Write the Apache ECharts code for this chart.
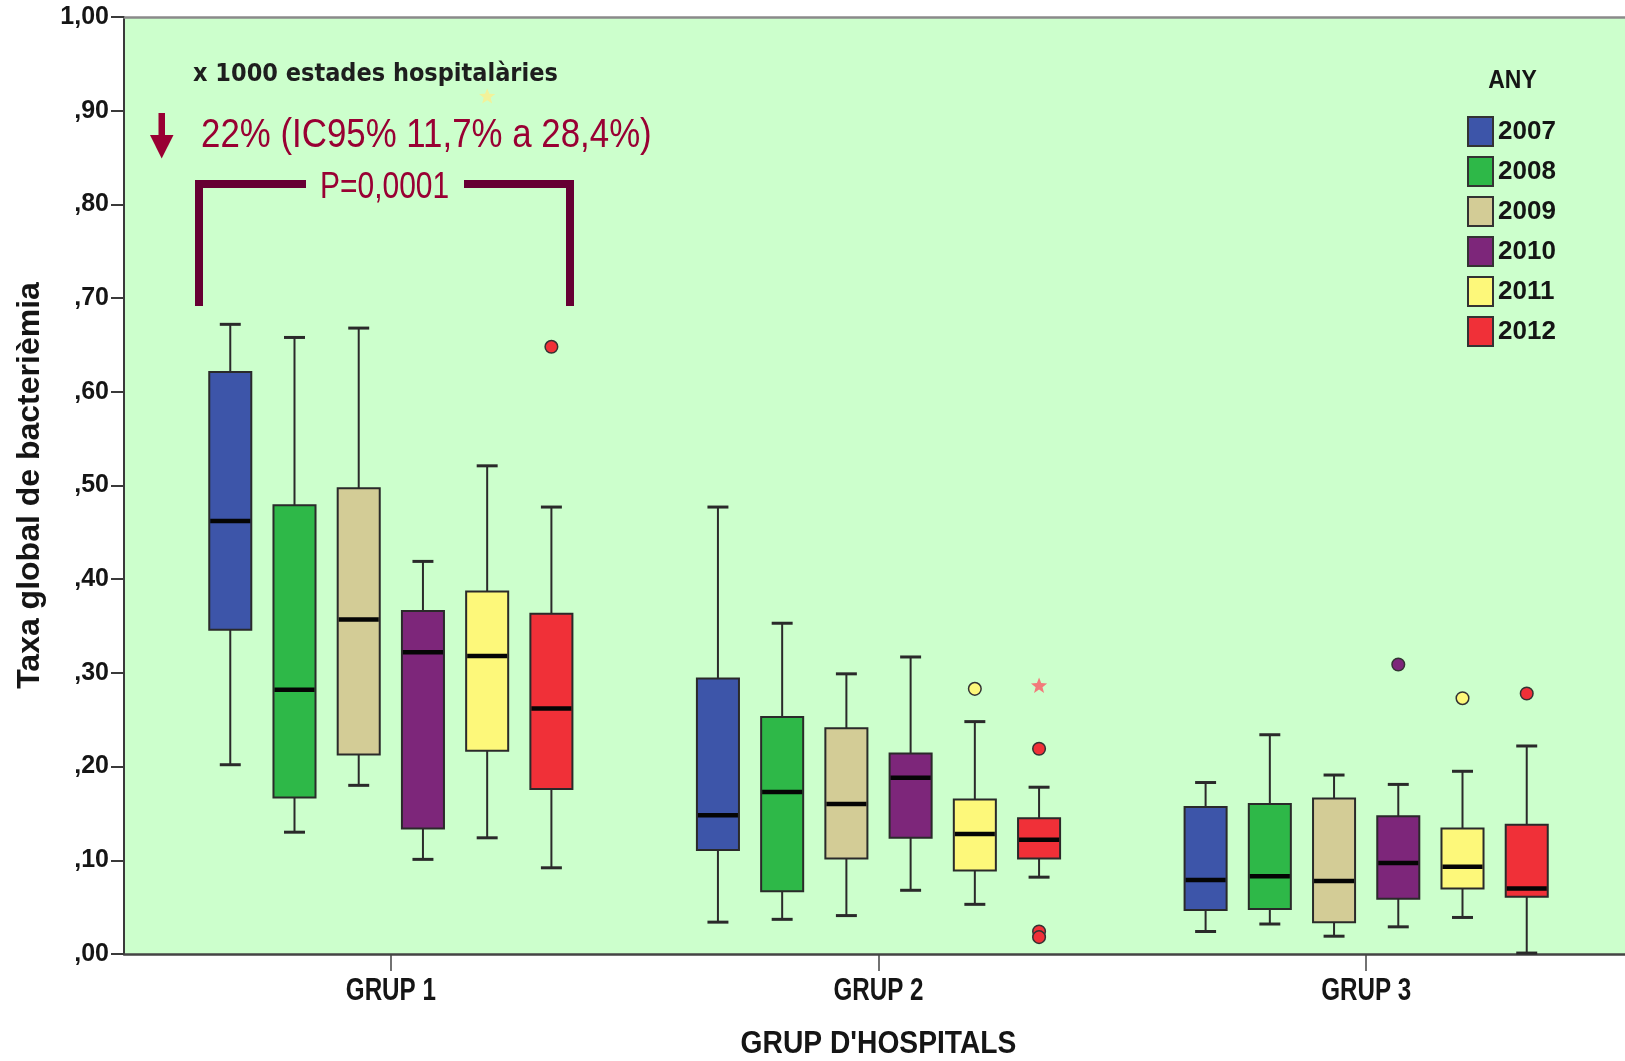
<!DOCTYPE html>
<html>
<head>
<meta charset="utf-8">
<script src="https://cdn.jsdelivr.net/npm/echarts@6/dist/echarts.min.js"></script>
<style>
  html, body { margin: 0; padding: 0; background: #ffffff; }
  #chart { width: 1625px; height: 1061px; }
</style>
</head>
<body>
<div id="chart"></div>
<script>
// Hospital groups on the category axis and the years drawn inside each group
const groups = ['GRUP 1', 'GRUP 2', 'GRUP 3'];
const years = ['2007', '2008', '2009', '2010', '2011', '2012'];
const yTickLabels = [',00', ',10', ',20', ',30', ',40', ',50', ',60', ',70', ',80', ',90', '1,00'];

// Box statistics per group: [min, Q1, median, Q3, max]
const box2007 = [[0.202, 0.346, 0.462, 0.621, 0.672], [0.034, 0.111, 0.148, 0.294, 0.477], [0.024, 0.047, 0.079, 0.157, 0.183]];
const box2008 = [[0.130, 0.167, 0.282, 0.479, 0.658], [0.037, 0.067, 0.173, 0.253, 0.353], [0.032, 0.048, 0.083, 0.160, 0.234]];
const box2009 = [[0.180, 0.213, 0.357, 0.497, 0.668], [0.041, 0.102, 0.160, 0.241, 0.299], [0.019, 0.034, 0.078, 0.166, 0.191]];
const box2010 = [[0.101, 0.134, 0.322, 0.366, 0.419], [0.068, 0.124, 0.188, 0.214, 0.317], [0.029, 0.059, 0.097, 0.147, 0.181]];
const box2011 = [[0.124, 0.217, 0.318, 0.387, 0.521], [0.053, 0.089, 0.128, 0.165, 0.248], [0.039, 0.070, 0.093, 0.134, 0.195]];
const box2012 = [[0.092, 0.176, 0.262, 0.363, 0.477], [0.082, 0.102, 0.122, 0.145, 0.178], [0.001, 0.061, 0.070, 0.138, 0.222]];

// Outliers (circles) and extreme values (stars): [group index, value]
const out2010 = [[2, 0.309]];
const out2011 = [[1, 0.283], [2, 0.273]];
const out2012 = [[0, 0.648], [1, 0.219], [1, 0.024], [1, 0.018], [2, 0.278]];
const ext2011 = [[0, 0.915]];
const ext2012 = [[1, 0.286]];

const boxes = [box2007, box2008, box2009, box2010, box2011, box2012];
const outliers = [[], [], [], out2010, out2011, out2012];
const extremes = [[], [], [], [], ext2011, ext2012];

const fills = ['#3d55a9', '#2eb848', '#d3cc96', '#7d267a', '#fdf87a', '#f03038'];
const starFills = ['#8899dd', '#88dd99', '#e8e4c0', '#b070b0', '#f2f29a', '#f27a7a'];

const SANS = "'Liberation Sans', Arial, sans-serif";
const INK = '#2a2a2a';
const TEXT = '#151515';
const WINE = '#990033';

// Horizontal layout of the six year slots inside one group band
const SLOT_STEP = 0.1317;   // fraction of the band between neighbouring years
const BOX_W = 0.0862;       // box width as fraction of the band
const CAP_W = 0.0430;       // whisker cap width as fraction of the band

function slotX(api, g, idx) {
  const c = api.coord([g, 0])[0];
  const band = api.size([1, 0])[0];
  return { x: c + (idx - 2.5) * band * SLOT_STEP, band: band };
}

function boxRenderer(idx) {
  return function (params, api) {
    const g = api.value(0);
    const s = slotX(api, g, idx);
    const cx = s.x;
    const hw = s.band * BOX_W / 2;
    const hc = s.band * CAP_W / 2;
    const y = (v) => api.coord([g, v])[1];
    const yMin = y(api.value(1)), yQ1 = y(api.value(2)), yMed = y(api.value(3)),
          yQ3 = y(api.value(4)), yMax = y(api.value(5));
    const line = (x1, y1, x2, y2, w, c) => ({
      type: 'line', shape: { x1, y1, x2, y2 },
      style: { stroke: c || INK, lineWidth: w }
    });
    return {
      type: 'group',
      children: [
        line(cx, yMax, cx, yQ3, 2),
        line(cx, yQ1, cx, yMin, 2),
        line(cx - hc, yMax, cx + hc, yMax, 3),
        line(cx - hc, yMin, cx + hc, yMin, 3),
        {
          type: 'rect',
          shape: { x: cx - hw, y: yQ3, width: hw * 2, height: yQ1 - yQ3 },
          style: { fill: fills[idx], stroke: INK, lineWidth: 2 }
        },
        line(cx - hw + 1, yMed, cx + hw - 1, yMed, 4.5, '#050505')
      ]
    };
  };
}

function starPoints(cx, cy, ro, ri) {
  const pts = [];
  for (let k = 0; k < 10; k++) {
    const r = k % 2 === 0 ? ro : ri;
    const a = -Math.PI / 2 + k * Math.PI / 5;
    pts.push([cx + r * Math.cos(a), cy + r * Math.sin(a)]);
  }
  return pts;
}

function pointRenderer(idx) {
  return function (params, api) {
    const g = api.value(0);
    const kind = api.value(2);
    const s = slotX(api, g, idx);
    const cy = api.coord([g, api.value(1)])[1];
    if (kind === 1) {
      return {
        type: 'polygon',
        shape: { points: starPoints(s.x, cy, 8.5, 3.6) },
        style: { fill: starFills[idx] }
      };
    }
    return {
      type: 'circle',
      shape: { cx: s.x, cy: cy, r: 6.3 },
      style: { fill: fills[idx], stroke: '#333', lineWidth: 1.5 }
    };
  };
}

const series = [];
years.forEach((yr, i) => {
  series.push({
    type: 'custom',
    name: yr,
    xAxisIndex: 2,
    yAxisIndex: 1,
    itemStyle: { color: fills[i] },
    renderItem: boxRenderer(i),
    encode: { x: 0, y: [1, 2, 3, 4, 5] },
    data: boxes[i].map((b, g) => [g].concat(b)),
    z: 3
  });
});
years.forEach((yr, i) => {
  const pts = outliers[i].map(p => [p[0], p[1], 0]).concat(extremes[i].map(p => [p[0], p[1], 1]));
  if (!pts.length) return;
  series.push({
    type: 'custom',
    name: yr,
    xAxisIndex: 2,
    yAxisIndex: 1,
    itemStyle: { color: fills[i] },
    renderItem: pointRenderer(i),
    encode: { x: 0, y: 1 },
    data: pts,
    z: 4
  });
});

const chart = echarts.init(document.getElementById('chart'), null, { renderer: 'canvas' });

const TOP = 17, BOTTOM = 107;

chart.setOption({
  animation: false,
  backgroundColor: '#ffffff',
  grid: [
    { left: 124, right: 0, top: TOP, bottom: BOTTOM, show: true, backgroundColor: '#ccffcc', borderWidth: 0 },
    { left: 147, right: 15, top: TOP, bottom: BOTTOM }
  ],
  xAxis: [
    {
      type: 'value', gridIndex: 0, min: 0, max: 1, position: 'bottom',
      axisLine: { show: true, lineStyle: { color: '#444', width: 2.5 } },
      axisTick: { show: false }, axisLabel: { show: false }, splitLine: { show: false }
    },
    {
      type: 'value', gridIndex: 0, min: 0, max: 1, position: 'top',
      axisLine: { show: true, lineStyle: { color: '#8a8a8a', width: 2.5 } },
      axisTick: { show: false }, axisLabel: { show: false }, splitLine: { show: false }
    },
    {
      // group labels are set in condensed type below, at the ticks of this axis
      type: 'category', gridIndex: 1, data: groups, position: 'bottom',
      axisLine: { show: false },
      axisTick: { show: true, alignWithLabel: true, length: 17, lineStyle: { color: '#444', width: 1.5 } },
      axisLabel: { show: false }
    }
  ],
  yAxis: [
    {
      type: 'value', gridIndex: 0, min: 0, max: 1, interval: 0.1,
      axisLine: { show: true, lineStyle: { color: '#3a3a3a', width: 2 } },
      axisTick: { show: true, length: 13, lineStyle: { color: '#3a3a3a', width: 2 } },
      axisLabel: {
        margin: 15, fontFamily: SANS, fontWeight: 'bold', fontSize: 25, color: TEXT,
        formatter: (v) => yTickLabels[Math.round(v * 10)]
      },
      splitLine: { show: false },
      name: 'Taxa global de bacterièmia',
      nameLocation: 'middle',
      nameRotate: 90,
      nameGap: 78,
      nameTextStyle: { fontFamily: SANS, fontWeight: 'bold', fontSize: 32, color: TEXT }
    },
    { type: 'value', gridIndex: 1, min: 0, max: 1, show: false }
  ],
  legend: {
    data: years,
    orient: 'vertical',
    left: 1462,
    top: 111,
    icon: 'rect',
    itemWidth: 25,
    itemHeight: 29,
    itemGap: 9,
    itemStyle: { borderColor: '#333', borderWidth: 2 },
    textStyle: { fontFamily: SANS, fontWeight: 'bold', fontSize: 26, color: TEXT, lineHeight: 29 },
    selectedMode: false
  },
  series: series
});

// Condensed text: drawn with a horizontal squeeze from the left/centre anchor
function squeezed(text, x, y, size, sx, opts) {
  return {
    type: 'text', x: x, y: y, scaleX: sx, z: 10,
    style: Object.assign({
      text: text, x: 0, y: 0, fontFamily: SANS, fontSize: size,
      fill: TEXT, align: 'left', verticalAlign: 'middle'
    }, opts || {})
  };
}

const axisY = chart.convertToPixel({ yAxisIndex: 1 }, 0);
const groupLabels = groups.map((g, i) => {
  const x = chart.convertToPixel({ xAxisIndex: 2 }, i);
  return squeezed(g, x, axisY + 37, 31, 0.78, { fontWeight: 'bold', align: 'center' });
});
const midX = (chart.convertToPixel({ xAxisIndex: 2 }, 0) + chart.convertToPixel({ xAxisIndex: 2 }, groups.length - 1)) / 2;

chart.setOption({
  graphic: groupLabels.concat([
    squeezed("GRUP D'HOSPITALS", midX, axisY + 90, 31, 0.91, { fontWeight: 'bold', align: 'center' }),
    squeezed('ANY', 1512.5, 81, 25.5, 0.9, { fontWeight: 'bold', align: 'center' }),
    {
      type: 'text', x: 193, y: 74, z: 10,
      style: {
        text: 'x 1000 estades hospitalàries', x: 0, y: 0,
        fontFamily: "'DejaVu Sans Condensed', 'DejaVu Sans', sans-serif",
        fontWeight: 'bold', fontSize: 25, fill: '#1e1e1e', verticalAlign: 'middle'
      }
    },
    squeezed('22% (IC95% 11,7% a 28,4%)', 201, 135.5, 41, 0.85, { fill: WINE }),
    squeezed('P=0,0001', 320, 187.5, 37, 0.81, { fill: WINE }),
    {
      type: 'rect', z: 10,
      shape: { x: 158.5, y: 113, width: 6.5, height: 24 },
      style: { fill: WINE }
    },
    {
      type: 'polygon', z: 10,
      shape: { points: [[150, 135], [173.5, 135], [161.7, 158.5]] },
      style: { fill: WINE }
    },
    {
      type: 'polyline', z: 10,
      shape: { points: [[199, 306], [199, 184], [306, 184]] },
      style: { stroke: '#660033', lineWidth: 8, fill: null }
    },
    {
      type: 'polyline', z: 10,
      shape: { points: [[464, 184], [570, 184], [570, 306]] },
      style: { stroke: '#660033', lineWidth: 8, fill: null }
    }
  ])
});
</script>
</body>
</html>
